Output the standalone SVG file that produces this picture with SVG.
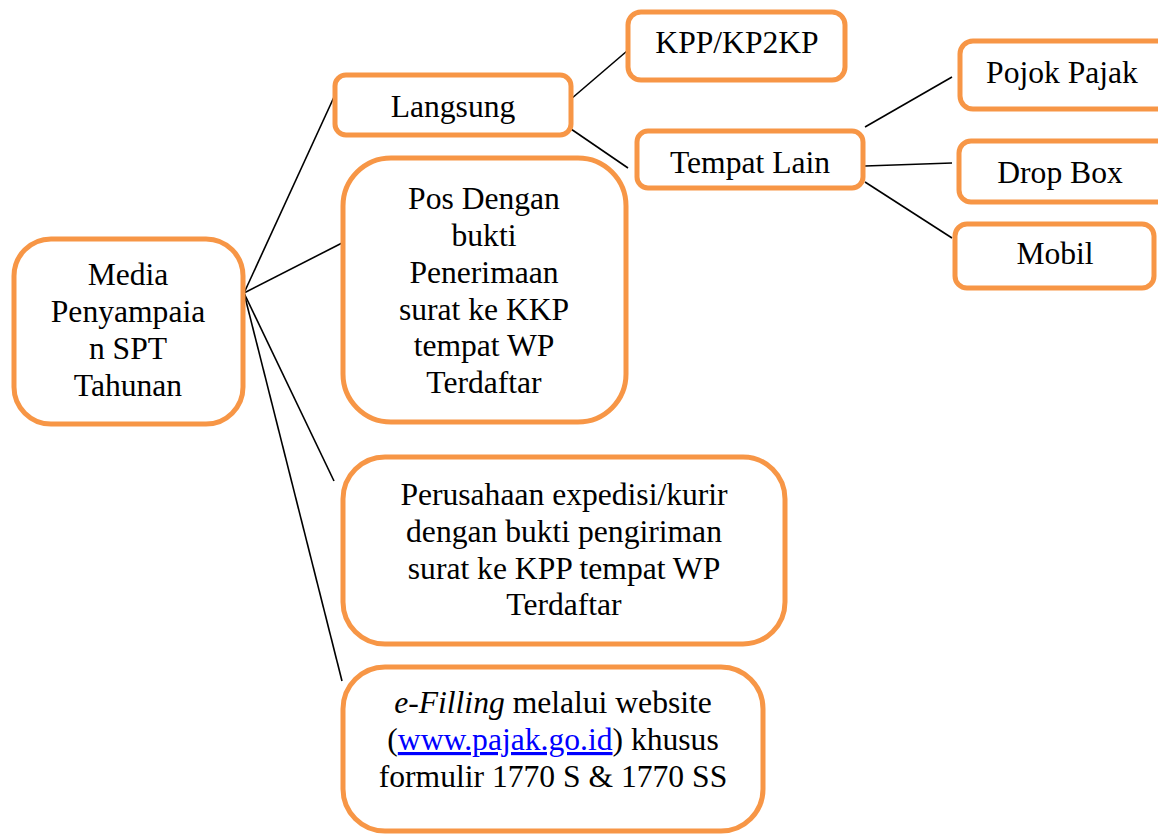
<svg xmlns="http://www.w3.org/2000/svg" width="1158" height="834" viewBox="0 0 1158 834">
<style>
.box{fill:#fff;stroke:#F79646;stroke-width:5}
.t{font-family:"Liberation Serif","Times New Roman",serif;font-size:31.6px;fill:#000;text-anchor:middle}
.c{stroke:#000;stroke-width:1.6;fill:none}
.lnk{fill:#0000FF;text-decoration:underline}
</style>
<rect width="1158" height="834" fill="#fff"/>
<g id="connectors">
<line class="c" x1="244" y1="293" x2="334" y2="97"/>
<line class="c" x1="244" y1="293" x2="342" y2="243"/>
<line class="c" x1="244" y1="293" x2="334" y2="481"/>
<line class="c" x1="244" y1="293" x2="342" y2="681"/>
<line class="c" x1="571" y1="99" x2="627" y2="51"/>
<line class="c" x1="571" y1="129" x2="628" y2="168"/>
<line class="c" x1="865" y1="127" x2="952" y2="77"/>
<line class="c" x1="865" y1="166" x2="952" y2="163"/>
<line class="c" x1="865" y1="182" x2="952" y2="238"/>
</g>
<g id="media">
<rect class="box" x="14" y="239" width="229" height="185" rx="37"/>
<text class="t" x="128" y="285">Media</text>
<text class="t" x="128" y="322">Penyampaia</text>
<text class="t" x="128" y="359">n SPT</text>
<text class="t" x="128" y="396">Tahunan</text>
</g>
<g id="langsung">
<rect class="box" x="335" y="75" width="236" height="60" rx="11"/>
<text class="t" x="453" y="117">Langsung</text>
</g>
<g id="kpp">
<rect class="box" x="628" y="12" width="217" height="68" rx="13"/>
<text class="t" x="737" y="53">KPP/KP2KP</text>
</g>
<g id="tempatlain">
<rect class="box" x="637" y="131" width="226" height="57" rx="11"/>
<text class="t" x="750" y="173">Tempat Lain</text>
</g>
<g id="pojok">
<rect class="box" x="960" y="41" width="210" height="68" rx="13"/>
<text class="t" x="1062" y="83">Pojok Pajak</text>
</g>
<g id="dropbox">
<rect class="box" x="959" y="141" width="210" height="61" rx="12"/>
<text class="t" x="1060" y="183">Drop Box</text>
</g>
<g id="mobil">
<rect class="box" x="955" y="224" width="199" height="64" rx="12"/>
<text class="t" x="1055" y="264">Mobil</text>
</g>
<g id="pos">
<rect class="box" x="343" y="158" width="283" height="264" rx="48"/>
<text class="t" x="484" y="209">Pos Dengan</text>
<text class="t" x="484" y="246">bukti</text>
<text class="t" x="484" y="283">Penerimaan</text>
<text class="t" x="484" y="320">surat ke KKP</text>
<text class="t" x="484" y="356">tempat WP</text>
<text class="t" x="484" y="393">Terdaftar</text>
</g>
<g id="perusahaan">
<rect class="box" x="343" y="457" width="442" height="187" rx="42"/>
<text class="t" x="564" y="505">Perusahaan expedisi/kurir</text>
<text class="t" x="564" y="542">dengan bukti pengiriman</text>
<text class="t" x="564" y="579">surat ke KPP tempat WP</text>
<text class="t" x="564" y="615">Terdaftar</text>
</g>
<g id="efilling">
<rect class="box" x="343" y="667" width="420" height="164" rx="42"/>
<text class="t" x="553" y="713"><tspan font-style="italic">e-Filling</tspan> melalui website</text>
<text class="t" x="553" y="750">(<tspan class="lnk">www.pajak.go.id</tspan>) khusus</text>
<text class="t" x="553" y="787">formulir 1770 S &amp; 1770 SS</text>
</g>
</svg>
